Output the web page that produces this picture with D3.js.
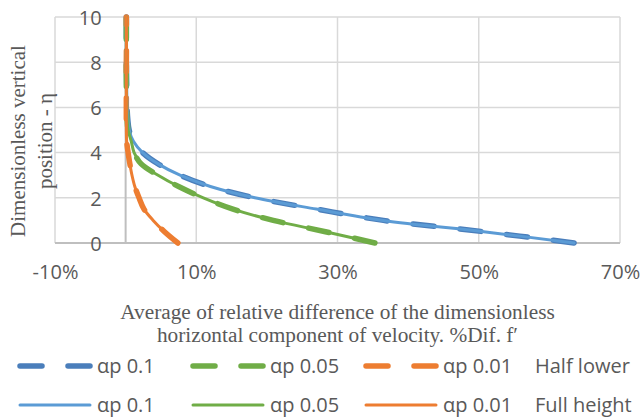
<!DOCTYPE html>
<html>
<head>
<meta charset="utf-8">
<script src="https://cdn.jsdelivr.net/npm/d3@7"></script>
<style>
  html, body { margin: 0; padding: 0; background: #fff; }
  svg { display: block; }
</style>
</head>
<body>
<svg id="chart" width="642" height="417"></svg>
<script>
// Dimensionless vertical position (eta) at which each profile is sampled
const eta = [0, 0.5, 1, 1.5, 2, 2.5, 3, 3.5, 4, 4.5, 5, 5.5, 6, 7, 8, 9, 10];

// Average relative difference of f' (fraction) — "Half lower" runs (dashed)
const halfAp01  = [0.635, 0.507, 0.365, 0.27, 0.183, 0.12, 0.077, 0.046, 0.024, 0.011, 0.005, 0.003, 0.002, 0.0015, 0.001, 0.001, 0.001];
const halfAp005 = [0.353, 0.283, 0.209, 0.152, 0.11, 0.075, 0.046, 0.022, 0.012, 0.008, 0.0035, 0.002, 0.0015, 0.001, 0.001, 0.001, 0.001];
const halfAp001 = [0.074, 0.055, 0.039, 0.026, 0.019, 0.013, 0.009, 0.006, 0.0035, 0.0015, 0.001, 0.001, 0.001, 0.001, 0.001, 0.0012, 0.001];

// Same quantity — "Full height" runs (solid)
const fullAp01  = [0.635, 0.507, 0.365, 0.27, 0.183, 0.12, 0.077, 0.046, 0.024, 0.011, 0.005, 0.003, 0.002, 0.0015, 0.001, 0.001, 0.001];
const fullAp005 = [0.353, 0.283, 0.209, 0.152, 0.11, 0.075, 0.046, 0.022, 0.012, 0.008, 0.0035, 0.002, 0.0015, 0.001, 0.001, 0.001, 0.001];
const fullAp001 = [0.074, 0.055, 0.039, 0.026, 0.019, 0.013, 0.009, 0.006, 0.0035, 0.0015, 0.001, 0.001, 0.001, 0.001, 0.001, 0.0012, 0.001];

const xTicks = [-0.1, 0.1, 0.3, 0.5, 0.7];
const xTickLabels = ["-10%", "10%", "30%", "50%", "70%"];
const yTicks = [0, 2, 4, 6, 8, 10];
const seriesNames = ["αp 0.1", "αp 0.05", "αp 0.01"];
const groupNames = ["Half lower", "Full height"];

const xTitle = ["Average of relative difference of the dimensionless",
                "horizontal component of velocity. %Dif. f′"];
const yTitle = ["Dimensionless vertical", "position - η"];

const svg = d3.select("#chart");
const plot = { left: 55, right: 620, top: 17, bottom: 243 };

const x = d3.scaleLinear().domain([-0.1, 0.7]).range([plot.left, plot.right]);
const y = d3.scaleLinear().domain([0, 10]).range([plot.bottom, plot.top]);

const tickFont = "'Open Sans', sans-serif";
const titleFont = "'Liberation Serif', 'Times New Roman', serif";
const textColor = "#595959";

// Gridlines
const grid = svg.append("g");
grid.selectAll("line.h").data(yTicks).join("line")
  .attr("x1", plot.left).attr("x2", plot.right)
  .attr("y1", d => y(d)).attr("y2", d => y(d))
  .attr("stroke", "#d9d9d9").attr("stroke-width", 1.5);
grid.selectAll("line.v").data(xTicks).join("line")
  .attr("y1", plot.top).attr("y2", plot.bottom)
  .attr("x1", d => x(d)).attr("x2", d => x(d))
  .attr("stroke", "#d9d9d9").attr("stroke-width", 1.5);

// Axis lines crossing at the origin
grid.append("line")
  .attr("x1", x(0)).attr("x2", x(0)).attr("y1", plot.top).attr("y2", plot.bottom)
  .attr("stroke", "#bfbfbf").attr("stroke-width", 2);
grid.append("line")
  .attr("x1", plot.left).attr("x2", plot.right).attr("y1", y(0)).attr("y2", y(0))
  .attr("stroke", "#bfbfbf").attr("stroke-width", 2);

// Series
const colors = { blue: "#5b9bd5", blueDark: "#4a7ebb", green: "#70ad47", orange: "#ed7d31" };
const series = [
  { vals: halfAp01,  color: colors.blueDark, dashed: true },
  { vals: halfAp005, color: colors.green,    dashed: true },
  { vals: halfAp001, color: colors.orange,   dashed: true },
  { vals: fullAp01,  color: colors.blue,     dashed: false },
  { vals: fullAp005, color: colors.green,    dashed: false },
  { vals: fullAp001, color: colors.orange,   dashed: false }
];

const line = d3.line()
  .x(d => x(d[0])).y(d => y(d[1]))
  .curve(d3.curveCatmullRom.alpha(0.5));

const lines = svg.append("g");
series.forEach(s => {
  const pts = s.vals.map((v, i) => [v, eta[i]]);
  lines.append("path")
    .attr("d", line(pts))
    .attr("fill", "none")
    .attr("stroke", s.color)
    .attr("stroke-width", s.dashed ? 5.5 : 3)
    .attr("stroke-linecap", "round")
    .attr("stroke-linejoin", "round")
    .attr("stroke-dasharray", s.dashed ? "21 26" : null);
});

// Axes (labels only; lines are drawn above)
const xAxis = svg.append("g")
  .attr("transform", `translate(0,${plot.bottom})`)
  .call(d3.axisBottom(x).tickValues(xTicks)
    .tickFormat((d, i) => xTickLabels[i]).tickSize(0));
xAxis.select(".domain").remove();
xAxis.selectAll("text")
  .attr("y", 36).attr("dy", null)
  .attr("fill", textColor)
  .style("font-family", tickFont).style("font-size", "20px");

const yAxis = svg.append("g")
  .attr("transform", `translate(${x(0)},0)`)
  .call(d3.axisLeft(y).tickValues(yTicks).tickSize(0));
yAxis.select(".domain").remove();
yAxis.selectAll("text")
  .attr("x", -24).attr("dy", "0.36em")
  .attr("fill", textColor)
  .style("font-family", tickFont).style("font-size", "20px");

// Axis titles
svg.append("g").selectAll("text").data(xTitle).join("text")
  .attr("x", (plot.left + plot.right) / 2)
  .attr("y", (d, i) => 319 + i * 23)
  .attr("text-anchor", "middle")
  .attr("fill", textColor)
  .style("font-family", titleFont).style("font-size", "21.3px")
  .text(d => d);

svg.append("g").selectAll("text").data(yTitle).join("text")
  .attr("transform", (d, i) => `translate(${25 + i * 27},141) rotate(-90)`)
  .attr("text-anchor", "middle")
  .attr("fill", textColor)
  .style("font-family", titleFont).style("font-size", "21px")
  .text(d => d);

// Legend: one row per run group, three entries each
const legendRows = [366, 405];
const legendCols = [20, 193, 366];
const legend = svg.append("g");
groupNames.forEach((g, r) => {
  const ly = legendRows[r];
  series.slice(r * 3, r * 3 + 3).forEach((s, c) => {
    const lx = legendCols[c];
    legend.append("line")
      .attr("x1", lx).attr("x2", lx + 70)
      .attr("y1", ly).attr("y2", ly)
      .attr("stroke", s.color)
      .attr("stroke-width", s.dashed ? 5.5 : 3)
      .attr("stroke-linecap", "round")
      .attr("stroke-dasharray", s.dashed ? "22 26" : null);
    legend.append("text")
      .attr("x", lx + 77).attr("y", ly + 7)
      .attr("fill", textColor)
      .style("font-family", tickFont).style("font-size", "20px")
      .text(seriesNames[c]);
  });
  legend.append("text")
    .attr("x", 535).attr("y", ly + 7)
    .attr("fill", textColor)
    .style("font-family", tickFont).style("font-size", "20px")
    .text(g);
});
</script>
</body>
</html>
